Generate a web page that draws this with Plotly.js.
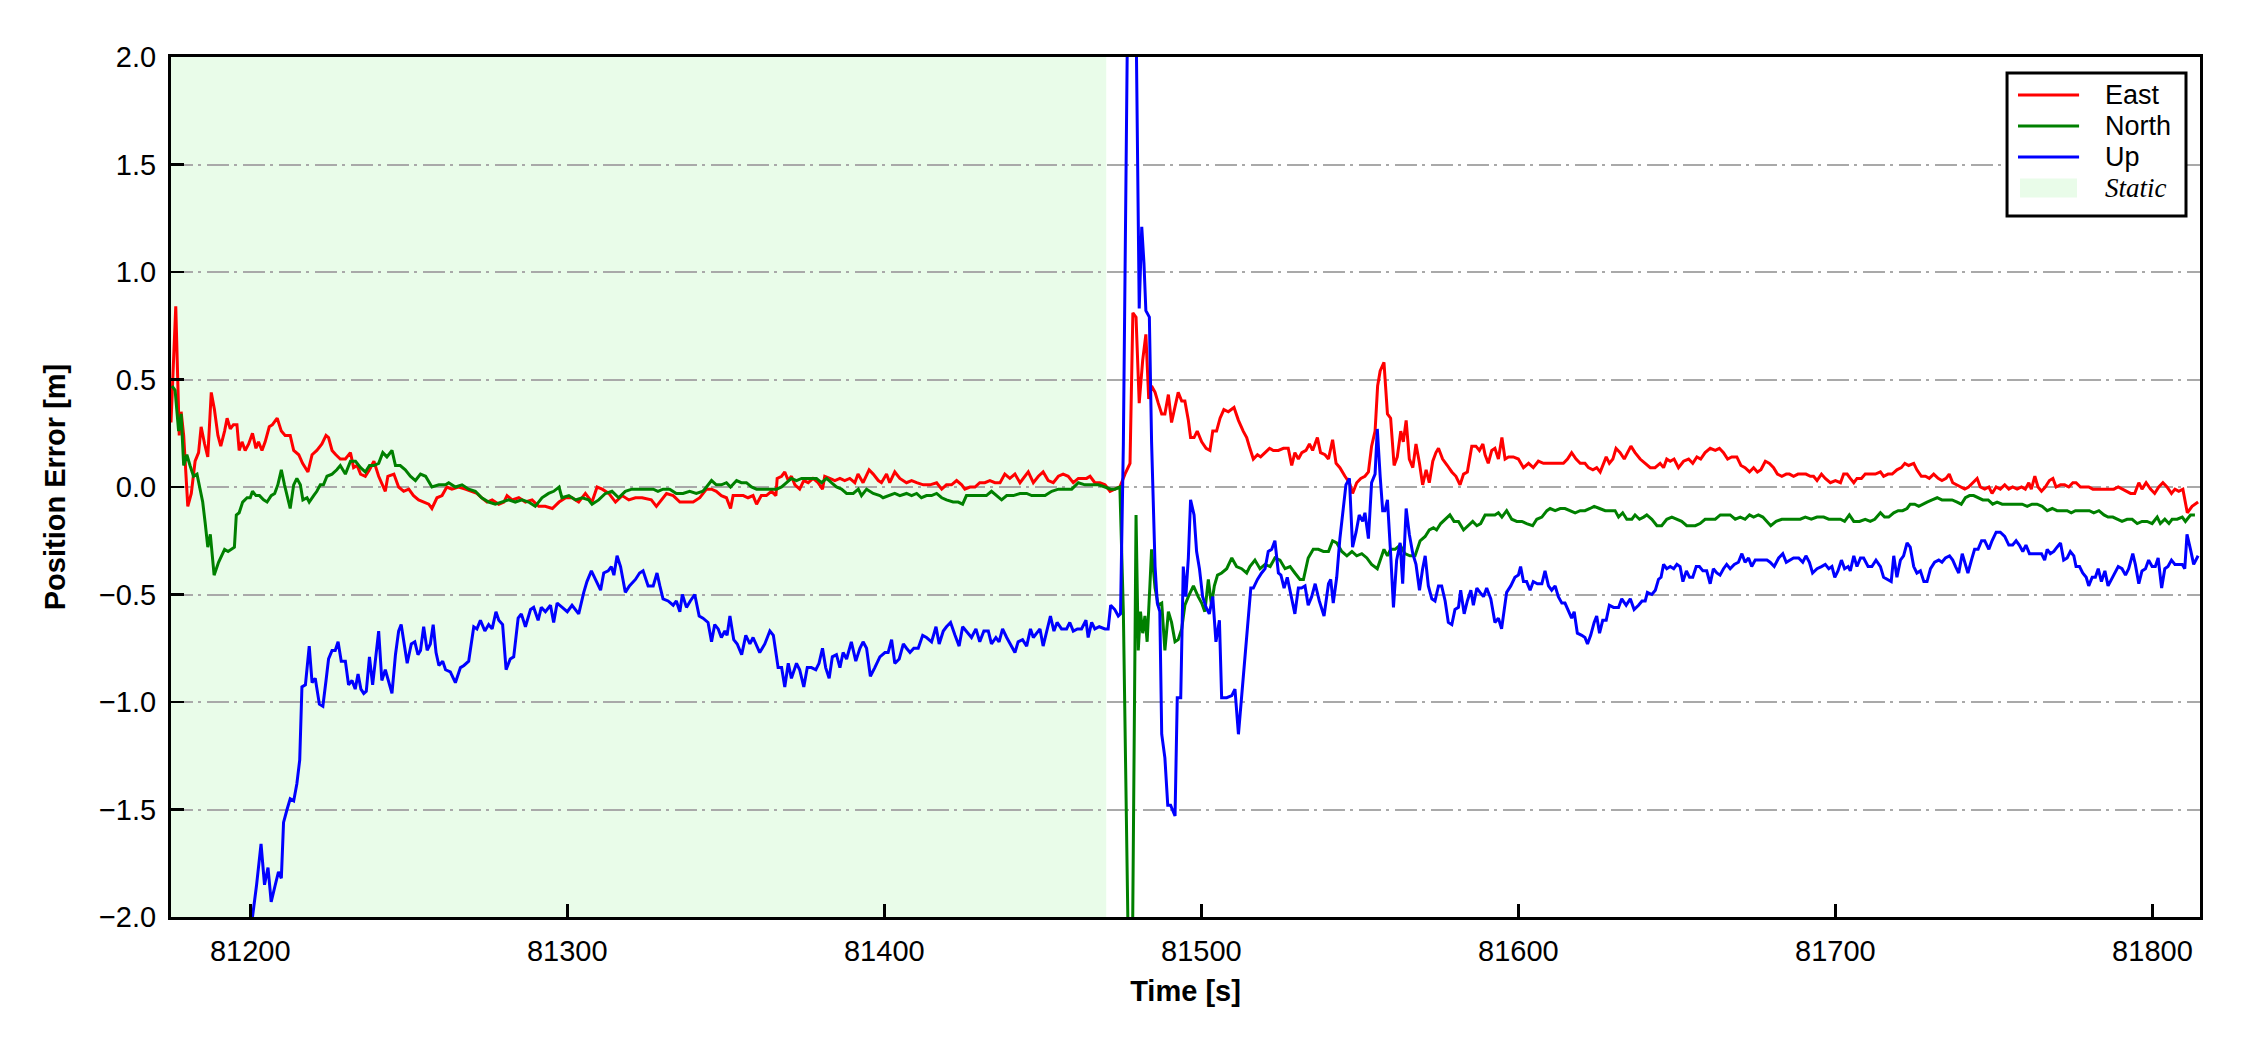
<!DOCTYPE html>
<html>
<head>
<meta charset="utf-8">
<script src="https://cdn.plot.ly/plotly-3.0.1.min.js"></script>
<style>html,body{margin:0;padding:0;background:#fff;}#chart{width:2250px;height:1050px;}</style>
</head>
<body>
<div id="chart"></div>
<script>
// ---- data ----
const staticStart = 81175;
const staticEnd = 81470;
const xTicks = [81200, 81300, 81400, 81500, 81600, 81700, 81800];
const yTicks = [-2.0, -1.5, -1.0, -0.5, 0.0, 0.5, 1.0, 1.5, 2.0];
const seriesNames = ['East', 'North', 'Up'];
const seriesColors = ['#ff0000', '#008000', '#0000ff'];
const staticName = 'Static';

const tEast = [81175,81176.5,81177.6,81178.2,81179,81180.3,81181.4,81182.6,81183.7,81184.5,81185.6,81186.6,81187.7,81188.7,81189.8,81190.7,81191.9,81192.7,81193.7,81194.7,81195.8,81196.5,81197.4,81198.4,81199.5,81200.7,81201.8,81202.6,81203.7,81204.7,81206,81207,81208.5,81209.8,81211,81212.6,81213.7,81215.3,81216.5,81218.2,81219.5,81221,81222.6,81223.9,81224.7,81225.8,81227,81228.4,81230,81231.6,81232.6,81233.7,81234.8,81236.3,81237.6,81239,81240.5,81242.6,81243.4,81245.3,81246.8,81248.4,81250,81251.5,81253.1,81254.7,81256.3,81257.3,81258.9,81260.5,81262,81263.6,81265.7,81267.8,81270,81271.5,81273,81274.7,81276.3,81278.4,81280,81281,81282.6,81284.7,81286.8,81288.9,81291,81293,81295.3,81297.4,81299.5,81301.5,81303.6,81305.7,81307.8,81309.4,81311,81313.1,81315.2,81317.3,81319.4,81321.5,81323.6,81326.5,81328.1,81329.7,81331.3,81333.4,81335.5,81337.6,81339.7,81341.8,81343.9,81345.5,81347,81348.6,81350.2,81351.5,81352.3,81353.9,81355.5,81357,81358.6,81359.7,81361.2,81362.8,81364.4,81365.8,81366.2,81367.6,81368.6,81369.7,81370.7,81371.8,81373.3,81374.6,81376,81377.5,81379.1,81380.5,81381.2,81382.8,81384.4,81386,81387.5,81389.1,81390.7,81391.7,81393.3,81395.2,81396.5,81398.1,81399.1,81400.7,81401.7,81403.3,81404.9,81407,81408.6,81410.2,81412.3,81414.4,81416.5,81418.1,81419.6,81421.2,81422.8,81424.4,81425.4,81427,81428.6,81430.1,81431.7,81433.3,81434.9,81436.5,81438,81439.6,81441.2,81442.8,81444.3,81445.4,81447,81448.6,81450.1,81451.7,81453.3,81454.9,81456.4,81458,81459.6,81461.2,81463.8,81464.9,81466.4,81468,81469.6,81471.2,81472.7,81474.3,81475.9,81477.5,81478.4,81479.4,81480.4,81481.5,81482.5,81483.4,81484.3,81485.4,81486.4,81487.5,81488.5,81489.6,81490.6,81491.7,81492.7,81493.8,81494.8,81495.9,81496.6,81497.7,81498.7,81500.1,81501.5,81502.7,81503.6,81504.8,81505.9,81507.1,81508.5,81510.3,81511.7,81513.2,81514.3,81515.3,81516.4,81517.7,81518.7,81520.1,81521.5,81522.7,81524.3,81525.9,81527.4,81528.5,81529.5,81530.6,81531.7,81533,81534.1,81535.1,81536.6,81537.6,81539,81540.1,81541.4,81542.5,81543.7,81545.3,81546.7,81547.7,81549,81550.3,81551.6,81552.7,81553.7,81554.8,81555.6,81556.4,81557.6,81558.7,81559.7,81560.8,81561.8,81562.9,81563.7,81564.6,81565.6,81566.7,81567.7,81568.8,81569.8,81570.9,81571.9,81573,81574,81574.8,81576.1,81577.6,81579,81580.3,81581.6,81582.7,81583.9,81585.3,81586.6,81587.7,81588.8,81589.5,81590.5,81591.6,81592.6,81593.7,81594.8,81595.8,81596.9,81598.4,81600,81601.6,81603.2,81604.7,81606.3,81607.9,81609.5,81611.1,81612.6,81614.2,81615.5,81616.8,81618.2,81619.5,81621,81622.1,81623.5,81624.7,81625.8,81626.8,81627.7,81628.7,81629.8,81630.8,81632.1,81633.4,81634.4,81635.5,81636.8,81638.4,81640,81641.6,81643.1,81644.7,81645.8,81646.8,81647.9,81649.1,81650.5,81652.1,81653.7,81655,81656.3,81657.5,81658.9,81660.5,81662.1,81663.4,81664.7,81666,81667.3,81668.9,81670.2,81671.5,81672.9,81674.2,81675.4,81676.5,81677.9,81679.2,81680.5,81681.7,81683.1,81684.5,81685.5,81686.8,81688.2,81689.5,81690.7,81692.1,81693.1,81694.2,81695.6,81696.8,81698.4,81700,81701.6,81702.6,81703.7,81704.7,81705.8,81706.8,81708.2,81709.4,81711,81712.6,81714.2,81715.2,81716.6,81717.9,81719.4,81720.8,81721.9,81723.1,81724.7,81725.7,81727.1,81728.4,81729.6,81731,81732.4,81733.6,81734.9,81735.9,81737,81738.4,81739.7,81740.8,81742,81743.3,81744.7,81745.7,81747.1,81748.4,81749.4,81750.7,81752,81753.4,81754.7,81755.9,81757.3,81758.7,81759.9,81761,81761.8,81762.9,81763.9,81765,81766.2,81767.5,81768.6,81769.6,81771,81772.3,81773.6,81774.9,81775.9,81777.3,81778.7,81779.9,81781.2,81782.5,81783.9,81785.2,81786.4,81787.8,81789.2,81790.4,81791.7,81793.1,81794.4,81795.7,81796.7,81798,81799.4,81800.7,81802,81803.3,81804.6,81806,81807.1,81808.3,81809.6,81811,81812.5,81814.4];
const east = [0.3,0.84,0.24,0.35,0.24,-0.09,-0.03,0.12,0.16,0.28,0.2,0.14,0.44,0.36,0.24,0.19,0.26,0.32,0.27,0.29,0.29,0.17,0.21,0.17,0.2,0.25,0.18,0.21,0.17,0.21,0.28,0.29,0.32,0.26,0.24,0.24,0.17,0.15,0.11,0.07,0.15,0.17,0.2,0.24,0.23,0.17,0.15,0.13,0.13,0.16,0.09,0.1,0.06,0.05,0.08,0.12,0.05,-0.02,0.05,0.06,0.0,-0.02,-0.01,-0.04,-0.06,-0.07,-0.08,-0.1,-0.05,-0.04,0.0,-0.01,0.0,-0.01,-0.02,-0.03,-0.05,-0.07,-0.06,-0.08,-0.07,-0.04,-0.06,-0.05,-0.07,-0.06,-0.09,-0.09,-0.1,-0.07,-0.05,-0.05,-0.07,-0.03,-0.07,0.0,-0.01,-0.03,-0.07,-0.04,-0.06,-0.05,-0.05,-0.06,-0.09,-0.06,-0.03,-0.04,-0.07,-0.07,-0.07,-0.05,-0.01,-0.01,-0.02,-0.04,-0.05,-0.1,-0.04,-0.04,-0.04,-0.05,-0.04,-0.08,-0.04,-0.04,-0.02,-0.04,0.04,0.05,0.07,0.03,0.05,0.01,-0.01,0.03,0.02,0.04,0.02,-0.01,0.05,0.04,0.03,0.04,0.03,0.04,0.02,0.06,0.02,0.08,0.06,0.03,0.02,0.06,0.02,0.07,0.04,0.02,0.03,0.02,0.01,0.01,0.02,-0.01,0.01,0.01,0.03,0.01,-0.01,0.0,0.0,0.02,0.02,0.03,0.02,0.02,0.06,0.04,0.06,0.02,0.05,0.07,0.02,0.05,0.07,0.03,0.02,0.05,0.06,0.05,0.02,0.04,0.04,0.05,0.02,0.02,0.01,-0.02,-0.01,0.0,0.06,0.11,0.81,0.79,0.39,0.59,0.71,0.41,0.47,0.44,0.39,0.34,0.34,0.43,0.3,0.37,0.44,0.4,0.4,0.31,0.23,0.23,0.26,0.21,0.18,0.17,0.26,0.26,0.32,0.36,0.35,0.37,0.31,0.26,0.23,0.18,0.13,0.15,0.14,0.16,0.18,0.17,0.17,0.18,0.18,0.1,0.16,0.13,0.16,0.17,0.2,0.17,0.23,0.16,0.15,0.13,0.22,0.11,0.09,0.05,0.02,-0.03,0.02,0.04,0.05,0.07,0.19,0.26,0.47,0.54,0.58,0.34,0.32,0.1,0.14,0.26,0.21,0.31,0.13,0.09,0.2,0.11,0.01,0.08,0.02,0.12,0.16,0.18,0.13,0.1,0.07,0.05,0.01,0.06,0.07,0.19,0.19,0.17,0.2,0.15,0.11,0.17,0.18,0.13,0.23,0.13,0.14,0.14,0.13,0.09,0.11,0.09,0.12,0.11,0.11,0.11,0.11,0.11,0.13,0.16,0.13,0.11,0.11,0.09,0.08,0.09,0.07,0.11,0.14,0.11,0.13,0.18,0.16,0.13,0.16,0.19,0.16,0.13,0.11,0.09,0.09,0.11,0.09,0.13,0.12,0.13,0.09,0.12,0.13,0.11,0.14,0.13,0.16,0.18,0.17,0.18,0.16,0.13,0.14,0.14,0.1,0.09,0.07,0.09,0.07,0.08,0.12,0.11,0.09,0.06,0.05,0.06,0.06,0.05,0.06,0.06,0.06,0.05,0.05,0.03,0.06,0.04,0.02,0.03,0.02,0.06,0.06,0.04,0.02,0.04,0.04,0.06,0.06,0.06,0.07,0.05,0.06,0.06,0.08,0.09,0.11,0.1,0.11,0.08,0.05,0.05,0.04,0.06,0.04,0.03,0.04,0.06,0.02,0.01,0.0,-0.01,0.0,0.02,0.04,0.0,-0.01,0.0,-0.03,0.0,-0.01,0.01,-0.01,0.0,-0.01,0.0,-0.01,0.02,-0.01,0.05,0.0,-0.02,0.0,0.03,0.04,0.0,0.01,0.01,0.0,0.02,0.02,0.0,0.0,0.0,-0.01,-0.01,-0.01,-0.01,-0.01,-0.01,0.0,-0.01,-0.02,-0.03,-0.03,0.02,-0.01,0.02,-0.01,-0.03,0.0,0.02,0.0,-0.03,-0.01,-0.02,-0.01,-0.12,-0.09,-0.07];

const tNorth = [81175.3,81176.3,81177.4,81178.2,81179,81180,81181,81182.1,81183.2,81184.2,81185,81185.8,81186.6,81187.4,81187.9,81188.6,81190,81191,81191.9,81193,81194,81195,81195.6,81196.5,81197.6,81199,81200,81200.7,81201.8,81202.9,81204.2,81205.3,81206.6,81207.7,81208.7,81209.8,81210.8,81211.9,81212.6,81213.7,81214.7,81215.8,81216.6,81217.9,81218.6,81220,81221,81222.1,81223.1,81224.2,81225.8,81227.3,81228.4,81230,81231.6,81233.2,81234.8,81236.3,81237.6,81239,81240.5,81241.8,81243.1,81244.7,81245.8,81247.3,81248.9,81250.5,81252.1,81253.7,81255.3,81257.3,81259.5,81261.6,81262.6,81264.7,81266.8,81268.9,81271,81273,81275.2,81277.3,81279.4,81281.5,81283.6,81285.7,81287.8,81289.9,81292,81294.1,81295.7,81297.4,81298.3,81300.5,81302.6,81304.7,81306.7,81307.8,81309.9,81312,81314.1,81316.2,81318.3,81320.4,81322.5,81325,81327.1,81328.6,81330.2,81332.3,81334.4,81336.5,81338.6,81340.7,81342.8,81343.9,81345.5,81347,81348.6,81350.2,81351.5,81353.4,81354.9,81356.5,81358.1,81359.7,81361.8,81363.9,81366,81367.6,81369.1,81370.7,81372.3,81373.9,81375.4,81377,81378.6,81380.2,81381.8,81383.3,81384.9,81386.5,81388.1,81390.2,81391.8,81392.8,81394.4,81396.5,81398.6,81399.6,81401.2,81403.3,81404.9,81407,81408.6,81410.2,81411.7,81413.3,81414.9,81416.5,81418.1,81419.6,81421.7,81423.3,81424.7,81425.9,81428,81430.1,81432.2,81433.8,81435.4,81437,81438.6,81440.7,81442.8,81444.9,81446.5,81448.6,81450.7,81452.8,81454.9,81457,81459.1,81461.2,81463.3,81465.4,81467.5,81469.6,81471.4,81472.7,81474.3,81475.4,81477.8,81479.4,81480.1,81480.8,81481.5,81482.2,81482.9,81483.8,81484.3,81485.4,81486.4,81487.5,81488.5,81489.6,81490.6,81491.7,81492.7,81493.8,81494.8,81495.9,81497.5,81499,81500.1,81501.1,81502.2,81503.2,81504.1,81505.1,81506.4,81508,81509.6,81511.1,81512.7,81514.3,81515.3,81516.9,81518.5,81520.1,81521.7,81523.2,81524.8,81526.4,81528,81529.5,81531.1,81532.2,81533.7,81535.3,81536.9,81538.5,81540.1,81541.4,81542.7,81544.3,81545.9,81547.5,81549,81550.6,81552.2,81553.7,81555.5,81556.9,81557.6,81558.7,81559.7,81561.1,81562.7,81564.2,81565.8,81567.4,81569,81570.6,81571.9,81573.2,81574.2,81575.5,81576.9,81578.4,81579.7,81581.1,81582.7,81584.2,81585.6,81586.9,81588.1,81589.5,81591.1,81592.6,81593.7,81594.8,81596.3,81597.9,81599.5,81601.1,81602.6,81604.5,81605.8,81607.4,81609,81610,81611.6,81613.2,81614.7,81616.3,81617.9,81619.5,81621,81622.6,81623.9,81625.6,81627.4,81629,81630.5,81631.6,81632.9,81634.2,81635.8,81636.8,81638.2,81639.5,81640.5,81642.1,81643.7,81645.2,81646.8,81648.4,81650,81651.5,81653.1,81654.4,81655.8,81657.3,81658.9,81660.5,81662.1,81663.7,81665.2,81666.8,81668.4,81670,81671.5,81672.9,81674.2,81675.7,81677.1,81678.4,81679.6,81681.3,81683.1,81685.2,81687.4,81688.9,81690.5,81692.4,81694.2,81696.3,81697.9,81700,81701.6,81702.9,81704.4,81705.8,81707.6,81709.4,81711,81712.4,81714.2,81715.5,81716.8,81718.4,81719.8,81721.2,81722.6,81723.6,81725,81726.3,81727.5,81728.9,81730.5,81732.1,81733.6,81735.2,81736.8,81738.4,81739.7,81741,81742.3,81743.6,81745,81746.5,81748.2,81749.6,81751,81752.6,81754.2,81755.7,81757.3,81758.9,81760.5,81762,81763.6,81765.2,81766.8,81768.4,81769.9,81771.5,81773.1,81774.4,81775.7,81777.3,81778.7,81780.1,81781.5,81783.1,81784.7,81786,81787.5,81788.9,81790.4,81792,81793.6,81795.2,81796.7,81798.3,81799.9,81801.5,81802.5,81803.9,81805.2,81806.2,81807.8,81809.4,81810.4,81812,81813.4,81814.4];
const north = [0.47,0.45,0.26,0.34,0.1,0.15,0.1,0.05,0.06,-0.01,-0.07,-0.17,-0.28,-0.22,-0.29,-0.41,-0.35,-0.32,-0.29,-0.3,-0.29,-0.28,-0.13,-0.12,-0.07,-0.05,-0.05,-0.02,-0.04,-0.04,-0.06,-0.07,-0.04,-0.03,0.01,0.08,0.01,-0.06,-0.1,0.01,0.04,0.01,-0.06,-0.05,-0.07,-0.04,-0.02,0.01,0.01,0.05,0.06,0.08,0.1,0.06,0.12,0.12,0.09,0.07,0.1,0.1,0.11,0.16,0.14,0.17,0.1,0.1,0.08,0.05,0.03,0.06,0.05,0.0,0.01,0.01,0.02,0.0,0.01,-0.01,-0.02,-0.05,-0.07,-0.08,-0.07,-0.06,-0.07,-0.06,-0.07,-0.09,-0.05,-0.03,-0.02,0.0,-0.05,-0.04,-0.06,-0.05,-0.06,-0.08,-0.06,-0.03,-0.02,-0.05,-0.02,-0.01,-0.01,-0.01,-0.01,-0.02,-0.01,-0.01,-0.03,-0.03,-0.02,-0.03,-0.02,0.0,0.03,0.01,0.01,0.02,0.0,0.03,0.02,0.02,0.0,-0.01,-0.01,-0.01,-0.01,0.0,0.02,0.04,0.03,0.04,0.04,0.04,0.04,0.02,0.04,0.02,0.0,-0.01,-0.03,-0.03,-0.01,-0.04,-0.01,-0.03,-0.04,-0.05,-0.04,-0.03,-0.04,-0.03,-0.04,-0.03,-0.05,-0.04,-0.04,-0.03,-0.05,-0.06,-0.07,-0.07,-0.08,-0.04,-0.04,-0.04,-0.04,-0.02,-0.04,-0.06,-0.04,-0.04,-0.03,-0.03,-0.04,-0.04,-0.04,-0.02,-0.01,-0.01,-0.01,0.02,0.01,0.01,0.01,0.0,-0.01,-0.01,0.0,-0.58,-3.0,-0.13,-0.76,-0.58,-0.68,-0.6,-0.72,-0.45,-0.29,-0.47,-0.55,-0.54,-0.76,-0.58,-0.63,-0.72,-0.71,-0.66,-0.55,-0.51,-0.46,-0.51,-0.54,-0.58,-0.43,-0.55,-0.46,-0.41,-0.4,-0.38,-0.33,-0.37,-0.38,-0.4,-0.37,-0.34,-0.38,-0.36,-0.37,-0.33,-0.34,-0.38,-0.37,-0.4,-0.43,-0.43,-0.33,-0.29,-0.29,-0.3,-0.3,-0.25,-0.26,-0.3,-0.32,-0.3,-0.32,-0.31,-0.33,-0.36,-0.38,-0.32,-0.29,-0.32,-0.29,-0.29,-0.27,-0.31,-0.32,-0.32,-0.25,-0.23,-0.2,-0.19,-0.2,-0.17,-0.15,-0.13,-0.16,-0.16,-0.2,-0.18,-0.16,-0.18,-0.17,-0.13,-0.13,-0.13,-0.12,-0.14,-0.11,-0.15,-0.16,-0.16,-0.17,-0.18,-0.15,-0.14,-0.11,-0.1,-0.11,-0.1,-0.1,-0.11,-0.12,-0.11,-0.11,-0.1,-0.09,-0.1,-0.11,-0.11,-0.11,-0.14,-0.12,-0.15,-0.15,-0.13,-0.15,-0.14,-0.13,-0.15,-0.18,-0.18,-0.15,-0.14,-0.15,-0.16,-0.18,-0.18,-0.18,-0.17,-0.15,-0.15,-0.15,-0.13,-0.13,-0.13,-0.15,-0.14,-0.15,-0.13,-0.14,-0.13,-0.14,-0.16,-0.18,-0.16,-0.15,-0.15,-0.15,-0.15,-0.14,-0.15,-0.14,-0.14,-0.15,-0.15,-0.15,-0.16,-0.13,-0.16,-0.16,-0.15,-0.16,-0.15,-0.12,-0.14,-0.14,-0.12,-0.11,-0.11,-0.1,-0.08,-0.08,-0.09,-0.08,-0.07,-0.06,-0.05,-0.06,-0.06,-0.06,-0.07,-0.08,-0.05,-0.04,-0.04,-0.05,-0.06,-0.06,-0.08,-0.07,-0.08,-0.08,-0.08,-0.08,-0.08,-0.09,-0.08,-0.08,-0.09,-0.11,-0.1,-0.11,-0.11,-0.11,-0.12,-0.11,-0.11,-0.11,-0.11,-0.12,-0.11,-0.13,-0.14,-0.14,-0.15,-0.16,-0.15,-0.15,-0.17,-0.16,-0.16,-0.17,-0.14,-0.17,-0.15,-0.17,-0.15,-0.15,-0.14,-0.16,-0.13,-0.13];

const tUp = [81175,81199.5,81200.7,81202,81203.4,81204.5,81205.6,81206.6,81207.9,81208.9,81209.8,81210.5,81211.6,81212.6,81213.7,81214.7,81215.6,81216.3,81217.4,81218.6,81219.5,81220.5,81221.8,81222.9,81223.9,81224.7,81225.8,81226.8,81227.7,81228.7,81230,81231,81232.1,81233.1,81234,81234.9,81235.8,81236.6,81237.6,81238.6,81240.5,81241.5,81242.6,81244.7,81245.8,81246.8,81247.6,81248.5,81249.5,81250.8,81251.9,81252.9,81253.7,81254.7,81255.8,81256.8,81257.7,81258.6,81259.5,81260.7,81261.6,81263.1,81264.7,81266.3,81267.4,81268.9,81270.5,81271.5,81272.6,81274,81275.2,81276.3,81277.5,81278.4,81279.6,81280.7,81282,81283.1,81284.5,81285.5,81286.8,81288.4,81289.4,81290.8,81291.8,81293.1,81294.7,81295.7,81296.8,81298.4,81300,81301.5,81303.6,81305.2,81306.2,81307.6,81309,81310.5,81311.5,81312.9,81313.9,81314.7,81315.7,81316.8,81318.3,81319.6,81321.5,81322.8,81323.9,81325.5,81327.1,81328.3,81329.2,81330.2,81331.8,81333.4,81334.4,81335.5,81336.3,81337.6,81338.8,81340.2,81341.6,81342.8,81344.4,81345.5,81346.5,81347.6,81348.6,81349.7,81350.4,81351.3,81352.5,81353.6,81355,81356.3,81357.6,81358.6,81360.7,81362.3,81363.9,81365,81366.5,81367.6,81368.6,81369.7,81370.7,81372.3,81373.3,81374.6,81375.7,81377,81378.4,81379.4,81380.5,81381.5,81382.6,81383.6,81384.9,81386,81387,81388.1,81389.6,81391,81392.3,81393.3,81394.4,81395.6,81397,81398.6,81400.2,81401.2,81402.3,81403.3,81404.7,81406,81407,81408.1,81409.3,81410.7,81412.1,81413.3,81414.9,81416.3,81417.3,81418.6,81419.6,81420.9,81422.3,81423.6,81424.7,81425.9,81427.5,81428.9,81430.1,81431.4,81432.8,81433.8,81435.2,81436.2,81437.3,81438.6,81439.8,81441.2,81442.2,81443.6,81444.9,81446.1,81447,81448,81449.1,81450.1,81451.2,81452.4,81453.5,81454.5,81455.9,81457.5,81458.5,81459.6,81460.9,81462.2,81463.6,81464.3,81465.4,81466.4,81467.8,81469.6,81470.6,81471.4,81472.7,81473.8,81474.5,81475.4,81478,81480.4,81481.2,81481.9,81482.5,81483.6,81484.3,81485.4,81486.1,81486.9,81487.5,81488.5,81489.4,81490.3,81491.7,81492.4,81493.5,81494.3,81495.1,81495.9,81496.6,81497.7,81498.5,81499.4,81500.4,81501.5,81502.5,81503.6,81504.6,81505.7,81506.4,81508,81509.6,81510.6,81511.7,81513.2,81514.3,81515.6,81516.4,81517.7,81519,81520.1,81521.1,81522.2,81523.2,81524.3,81525.1,81526.1,81527.1,81528.2,81529.5,81530.6,81531.6,81532.7,81533.7,81534.8,81535.9,81537.2,81538.7,81540.1,81540.8,81541.6,81542.7,81543.7,81544.8,81545.6,81546.7,81547.7,81548.8,81549.8,81550.9,81551.6,81552.7,81553.7,81554.8,81555.5,81556.4,81557.2,81557.9,81558.7,81559.7,81560.6,81561.6,81562.7,81563.5,81564.6,81565.6,81566.7,81567.7,81568.8,81569.8,81570.6,81571.6,81572.7,81573.7,81574.8,81575.8,81576.9,81577.9,81579,81580,81581.1,81581.8,81582.9,81583.9,81585,81585.8,81586.9,81587.9,81589,81590,81591.3,81592.6,81593.7,81594.7,81596.3,81597.6,81598.9,81600,81600.7,81601.6,81602.6,81603.7,81604.7,81606,81607.4,81608.4,81609.5,81610.5,81611.6,81612.6,81613.7,81614.7,81615.8,81616.8,81617.6,81618.6,81620,81621,81621.8,81622.8,81623.9,81624.7,81625.6,81626.6,81627.7,81628.7,81630,81631.6,81632.6,81634,81635.3,81636.5,81637.9,81639,81640,81640.7,81642.1,81643.2,81644.2,81645,81645.8,81646.8,81647.9,81649,81650,81651,81651.9,81653,81654,81655,81656.1,81657.1,81658.2,81659.4,81660.5,81661.5,81662.6,81663.6,81664.7,81665.7,81666.8,81668.1,81669.4,81670.5,81671.5,81672.6,81673.6,81674.7,81676.3,81678.4,81679.4,81680.7,81682.1,81683.4,81684.5,81685.5,81686.8,81688.4,81689.7,81690.7,81691.8,81692.8,81694.2,81695.6,81696.8,81697.9,81698.9,81699.8,81700.8,81701.9,81702.9,81704,81704.7,81705.8,81706.8,81707.9,81708.9,81710.3,81711.5,81712.8,81714.2,81715.2,81716.3,81717.6,81718.4,81719.4,81720.5,81721.5,81722.6,81723.6,81724.7,81725.7,81726.8,81727.9,81728.9,81730,81731.3,81732.6,81733.6,81734.7,81736,81737,81737.9,81738.9,81740,81741,81741.8,81742.9,81743.9,81745,81746.1,81747.1,81748.4,81749.4,81750.7,81752,81753.4,81754.7,81755.9,81757,81758,81759.1,81760.1,81761.2,81762.2,81763.6,81765,81766,81766.8,81767.8,81768.9,81769.9,81771,81772,81773.1,81774.1,81775.2,81775.9,81777,81778,81779.1,81779.9,81781,81782,81782.9,81783.9,81785,81786,81787.1,81788.1,81789.2,81790.4,81791.5,81792.5,81793.8,81794.6,81795.7,81796.7,81797.8,81798.8,81799.9,81800.9,81801.8,81802.9,81803.9,81804.9,81806,81807.1,81808.3,81809.4,81810.2,81810.9,81812,81813,81814.4];
const up = [-2.8,-2.2,-2.0,-1.85,-1.66,-1.85,-1.77,-1.93,-1.85,-1.79,-1.82,-1.56,-1.5,-1.45,-1.46,-1.38,-1.27,-0.93,-0.92,-0.74,-0.91,-0.89,-1.01,-1.02,-0.9,-0.8,-0.76,-0.76,-0.72,-0.81,-0.81,-0.92,-0.9,-0.94,-0.87,-0.94,-0.96,-0.95,-0.79,-0.92,-0.67,-0.9,-0.85,-0.96,-0.78,-0.67,-0.64,-0.72,-0.82,-0.73,-0.72,-0.78,-0.76,-0.65,-0.76,-0.73,-0.64,-0.77,-0.83,-0.81,-0.85,-0.86,-0.91,-0.84,-0.83,-0.81,-0.65,-0.66,-0.62,-0.67,-0.64,-0.66,-0.58,-0.62,-0.64,-0.85,-0.8,-0.79,-0.61,-0.59,-0.65,-0.57,-0.56,-0.62,-0.56,-0.58,-0.55,-0.63,-0.54,-0.56,-0.58,-0.55,-0.59,-0.49,-0.44,-0.39,-0.43,-0.48,-0.4,-0.39,-0.37,-0.41,-0.32,-0.37,-0.49,-0.46,-0.43,-0.4,-0.39,-0.46,-0.46,-0.4,-0.46,-0.52,-0.53,-0.55,-0.53,-0.58,-0.5,-0.56,-0.53,-0.5,-0.6,-0.61,-0.63,-0.72,-0.64,-0.66,-0.7,-0.67,-0.69,-0.6,-0.71,-0.73,-0.78,-0.69,-0.73,-0.7,-0.77,-0.73,-0.67,-0.69,-0.84,-0.84,-0.93,-0.82,-0.89,-0.82,-0.85,-0.93,-0.84,-0.84,-0.85,-0.82,-0.75,-0.84,-0.89,-0.79,-0.78,-0.84,-0.77,-0.8,-0.72,-0.81,-0.75,-0.72,-0.75,-0.88,-0.84,-0.79,-0.77,-0.77,-0.71,-0.82,-0.8,-0.73,-0.75,-0.77,-0.75,-0.75,-0.69,-0.7,-0.72,-0.65,-0.73,-0.67,-0.65,-0.63,-0.69,-0.74,-0.65,-0.67,-0.7,-0.66,-0.72,-0.67,-0.67,-0.73,-0.7,-0.72,-0.66,-0.7,-0.73,-0.77,-0.72,-0.71,-0.74,-0.66,-0.7,-0.68,-0.66,-0.74,-0.67,-0.6,-0.67,-0.63,-0.66,-0.66,-0.63,-0.67,-0.66,-0.66,-0.62,-0.7,-0.63,-0.66,-0.65,-0.66,-0.66,-0.55,-0.57,-0.6,-0.59,0.2,4.1,0.83,1.21,1.04,0.82,0.79,0.21,-0.37,-0.54,-0.58,-1.15,-1.26,-1.48,-1.48,-1.53,-0.98,-0.98,-0.37,-0.51,-0.33,-0.06,-0.13,-0.3,-0.38,-0.51,-0.56,-0.59,-0.51,-0.72,-0.62,-0.98,-0.98,-0.97,-0.94,-1.15,-0.89,-0.66,-0.47,-0.47,-0.43,-0.4,-0.38,-0.3,-0.29,-0.25,-0.4,-0.41,-0.47,-0.42,-0.5,-0.59,-0.47,-0.47,-0.46,-0.55,-0.51,-0.45,-0.53,-0.6,-0.45,-0.43,-0.54,-0.42,-0.24,-0.09,0.01,0.04,-0.28,-0.21,-0.13,-0.16,-0.12,-0.24,0.02,0.06,0.27,0.05,-0.11,-0.11,-0.06,-0.31,-0.56,-0.34,-0.26,-0.45,-0.1,-0.22,-0.31,-0.36,-0.48,-0.38,-0.32,-0.46,-0.52,-0.53,-0.46,-0.46,-0.53,-0.63,-0.64,-0.57,-0.56,-0.48,-0.59,-0.53,-0.48,-0.55,-0.47,-0.49,-0.51,-0.47,-0.52,-0.63,-0.61,-0.66,-0.49,-0.46,-0.42,-0.41,-0.37,-0.44,-0.44,-0.48,-0.44,-0.45,-0.45,-0.39,-0.46,-0.48,-0.46,-0.51,-0.54,-0.54,-0.58,-0.61,-0.58,-0.68,-0.69,-0.7,-0.73,-0.69,-0.63,-0.6,-0.68,-0.62,-0.62,-0.55,-0.56,-0.56,-0.52,-0.55,-0.52,-0.57,-0.55,-0.53,-0.53,-0.49,-0.5,-0.48,-0.43,-0.42,-0.36,-0.38,-0.37,-0.38,-0.36,-0.37,-0.44,-0.39,-0.42,-0.42,-0.37,-0.37,-0.39,-0.39,-0.45,-0.38,-0.4,-0.41,-0.38,-0.36,-0.38,-0.36,-0.35,-0.31,-0.35,-0.33,-0.37,-0.34,-0.34,-0.34,-0.35,-0.37,-0.33,-0.31,-0.35,-0.34,-0.33,-0.33,-0.35,-0.32,-0.35,-0.4,-0.38,-0.37,-0.36,-0.38,-0.37,-0.42,-0.39,-0.34,-0.38,-0.37,-0.39,-0.32,-0.37,-0.33,-0.33,-0.37,-0.37,-0.34,-0.37,-0.42,-0.43,-0.44,-0.32,-0.42,-0.34,-0.32,-0.26,-0.28,-0.37,-0.4,-0.39,-0.44,-0.44,-0.38,-0.35,-0.34,-0.35,-0.33,-0.32,-0.34,-0.37,-0.4,-0.31,-0.36,-0.4,-0.34,-0.29,-0.29,-0.25,-0.25,-0.29,-0.25,-0.21,-0.21,-0.23,-0.27,-0.27,-0.25,-0.27,-0.3,-0.27,-0.31,-0.31,-0.31,-0.31,-0.34,-0.29,-0.31,-0.3,-0.28,-0.26,-0.34,-0.33,-0.3,-0.32,-0.37,-0.37,-0.4,-0.42,-0.46,-0.42,-0.42,-0.38,-0.44,-0.39,-0.46,-0.43,-0.4,-0.37,-0.38,-0.41,-0.38,-0.31,-0.36,-0.45,-0.39,-0.38,-0.34,-0.37,-0.37,-0.33,-0.47,-0.38,-0.37,-0.34,-0.36,-0.36,-0.36,-0.38,-0.22,-0.29,-0.36,-0.32];

// ---- drawing ----
const lineW = 3;
const staticFill = 'rgb(233,252,233)';
const font = 'Liberation Sans, Arial, sans-serif';
const seriesT = [tEast, tNorth, tUp];
const seriesV = [east, north, up];

const traces = seriesNames.map((nm, i) => ({
  x: seriesT[i], y: seriesV[i], name: nm, type: 'scatter', mode: 'lines',
  line: {color: seriesColors[i], width: lineW}
}));

const axisCommon = {
  showline: true, linecolor: '#000', linewidth: 3, mirror: true,
  ticks: 'inside', ticklen: 13, tickwidth: 2.5, tickcolor: '#000',
  zeroline: false,
  tickfont: {family: font, size: 29, color: '#000'}
};

// Legend box (paper coordinates of the plot area)
const L = {x0: 0.9049, x1: 0.9931, y0: 0.8151, y1: 0.9814,
           lx0: 0.9103, lx1: 0.9404, tx: 0.9522,
           rows: [0.9558, 0.9198, 0.8837, 0.8477], patchH: 0.0110};

const shapes = [
  {type: 'rect', xref: 'x', yref: 'paper', x0: staticStart, x1: staticEnd, y0: 0, y1: 1,
   fillcolor: staticFill, line: {width: 0}, layer: 'below'},
  {type: 'rect', xref: 'paper', yref: 'paper', x0: L.x0, x1: L.x1, y0: L.y0, y1: L.y1,
   fillcolor: '#fff', line: {color: '#000', width: 3}, layer: 'above'}
];
const annotations = [];
seriesNames.forEach((nm, i) => {
  shapes.push({type: 'line', xref: 'paper', yref: 'paper', x0: L.lx0, x1: L.lx1, y0: L.rows[i], y1: L.rows[i],
               line: {color: seriesColors[i], width: lineW}, layer: 'above'});
  annotations.push({xref: 'paper', yref: 'paper', x: L.tx, y: L.rows[i], xanchor: 'left', yanchor: 'middle',
                    text: nm, showarrow: false, font: {family: font, size: 27, color: '#000'}});
});
shapes.push({type: 'rect', xref: 'paper', yref: 'paper', x0: L.lx0 + 0.001, x1: L.lx1 - 0.001,
             y0: L.rows[3] - L.patchH, y1: L.rows[3] + L.patchH,
             fillcolor: staticFill, line: {width: 0}, layer: 'above'});
annotations.push({xref: 'paper', yref: 'paper', x: L.tx, y: L.rows[3], xanchor: 'left', yanchor: 'middle',
                  text: '<i>' + staticName + '</i>', showarrow: false,
                  font: {family: 'Liberation Serif, Times New Roman, serif', size: 27, color: '#000'}});

const layout = {
  width: 2250, height: 1050,
  margin: {l: 171, r: 50, t: 57, b: 133},
  paper_bgcolor: '#fff', plot_bgcolor: '#fff',
  showlegend: false,
  xaxis: Object.assign({}, axisCommon, {
    range: [81175, 81815], tickvals: xTicks, ticktext: xTicks.map(String),
    showgrid: false, ticklabelstandoff: 6,
    title: {text: 'Time [s]', font: {family: font, size: 29, weight: 'bold', color: '#000'}, standoff: 15}
  }),
  yaxis: Object.assign({}, axisCommon, {
    range: [-2, 2], tickvals: yTicks, tickformat: '.1f',
    showgrid: true, gridcolor: '#a9a9a9', gridwidth: 2, griddash: '22px,5px,3px,6px',
    ticklabelstandoff: 6,
    title: {text: 'Position Error [m]', font: {family: font, size: 29, weight: 'bold', color: '#000'}, standoff: 25}
  }),
  shapes: shapes,
  annotations: annotations
};

Plotly.newPlot('chart', traces, layout, {displayModeBar: false, staticPlot: true});
</script>
</body>
</html>
